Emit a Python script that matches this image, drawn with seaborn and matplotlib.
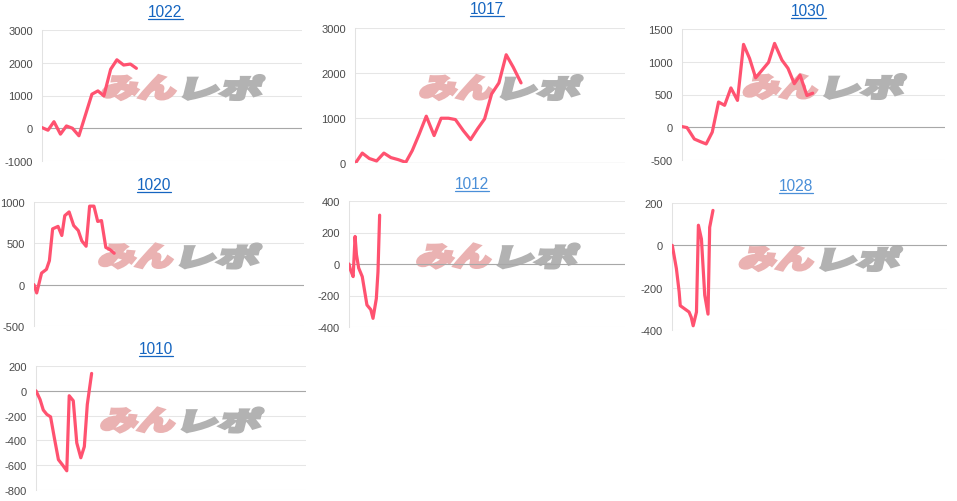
import numpy as np
import pandas as pd
import seaborn as sns
import matplotlib
matplotlib.use("Agg")
import matplotlib.pyplot as plt
from matplotlib.textpath import TextPath
from matplotlib.patches import PathPatch
from matplotlib.font_manager import FontProperties
from matplotlib.transforms import Affine2D
from matplotlib.lines import Line2D

# ---------------- data (x = position along the day, % of axis width) ----------------
names = ["1022", "1017", "1030", "1020", "1012", "1028", "1010"]

x_1022 = [0, 2.3, 4.6, 7.1, 9.4, 11.7, 14.2, 16.8, 19.2, 21.5, 23.8, 26.4, 28.8, 31.4, 34.0, 36.3]
y_1022 = [20, -60, 200, -180, 70, 0, -230, 430, 1040, 1140, 990, 1800, 2090, 1930, 1960, 1830]

x_1017 = [0.2, 2.7, 5.3, 8.0, 10.7, 13.3, 16.0, 18.8, 21.2, 23.8, 26.4, 29.3, 31.9, 34.6, 37.2,
          40.1, 42.8, 45.4, 48.0, 50.6, 53.3, 56.0, 58.6, 61.5]
y_1017 = [0, 220, 100, 45, 220, 120, 75, 15, 275, 645, 1040, 610, 995, 995, 965,
          720, 520, 760, 980, 1535, 1780, 2405, 2130, 1780]

x_1030 = [0, 1.9, 4.7, 7.0, 9.2, 11.5, 13.9, 16.2, 18.6, 21.1, 23.4, 25.7, 28.0, 30.4, 32.9,
          35.2, 38.0, 40.3, 42.7, 44.9, 47.5, 49.7]
y_1030 = [10, -5, -180, -220, -255, -75, 385, 335, 600, 410, 1265, 1050, 755, 870, 990,
          1280, 1025, 900, 665, 795, 485, 520]

x_1020 = [0, 1.0, 2.8, 4.6, 5.7, 6.9, 8.9, 10.3, 11.4, 13.0, 14.7, 16.4, 17.7, 19.3, 20.6,
          22.2, 23.6, 25.0, 26.6, 28.1, 29.7]
y_1020 = [0, -100, 140, 185, 290, 675, 705, 595, 835, 880, 715, 655, 530, 465, 950,
          950, 765, 775, 450, 425, 380]

x_1012 = [0, 0.5, 1.5, 2.2, 2.7, 3.5, 4.8, 6.5, 7.9, 8.7, 9.9, 10.5, 11.1]
y_1012 = [0, -35, -80, 175, 60, -25, -80, -260, -290, -345, -220, -50, 310]

x_1028 = [0.1, 1.6, 2.6, 3.0, 4.6, 6.2, 7.0, 7.7, 8.9, 9.6, 10.7, 11.9, 13.1, 13.7, 14.9]
y_1028 = [0, -110, -220, -285, -300, -315, -340, -380, -315, 95, 30, -235, -325, 85, 165]

x_1010 = [0, 1.5, 2.7, 4.0, 5.4, 6.8, 8.3, 9.9, 11.4, 12.3, 13.8, 15.1, 16.6, 17.9, 19.0, 20.6]
y_1010 = [0, -70, -155, -190, -210, -380, -555, -600, -645, -40, -80, -420, -540, -450, -110, 140]

ticks_1022 = [-1000, 0, 1000, 2000, 3000]
ticks_1017 = [0, 1000, 2000, 3000]
ticks_1030 = [-500, 0, 500, 1000, 1500]
ticks_1020 = [-500, 0, 500, 1000]
ticks_1012 = [-400, -200, 0, 200, 400]
ticks_1028 = [-400, -200, 0, 200]
ticks_1010 = [-800, -600, -400, -200, 0, 200]

series = {
    "1022": (x_1022, y_1022, ticks_1022),
    "1017": (x_1017, y_1017, ticks_1017),
    "1030": (x_1030, y_1030, ticks_1030),
    "1020": (x_1020, y_1020, ticks_1020),
    "1012": (x_1012, y_1012, ticks_1012),
    "1028": (x_1028, y_1028, ticks_1028),
    "1010": (x_1010, y_1010, ticks_1010),
}

# ---------------- layout (pixels) ----------------
W, H = 957, 502
# left, top, right, bottom of plot area ; title centre x, y ; underline y ; title colour
layout = {
    "1022": ((42, 31, 302, 162), (165.5, 12.5), 19.5, "#1565C0"),
    "1017": ((355, 29, 625, 164), (487, 10), 17.0, "#1565C0"),
    "1030": ((682, 30, 945, 161), (808.5, 11.5), 18.5, "#1565C0"),
    "1020": ((34, 203, 304, 327), (154, 186), 193.0, "#1565C0"),
    "1012": ((349, 202, 625, 328), (472, 184.5), 191.5, "#4A8FD8"),
    "1028": ((672, 204, 947, 331), (796, 186.5), 193.5, "#4A8FD8"),
    "1010": ((36, 367, 306, 491), (156, 349.5), 356.5, "#1565C0"),
}

sns.set_theme(style="white")
plt.rcParams["font.family"] = ["Liberation Sans", "DejaVu Sans"]
plt.rcParams["axes.unicode_minus"] = False

fig = plt.figure(figsize=(W / 100, H / 100), dpi=100)
fig.patch.set_facecolor("white")

LINE = "#FF5270"
GRID = "#E6E6E6"
fp_logo = FontProperties(family=["Noto Sans CJK JP"], weight="black")


def logo_patch(text, x_left, y_bot, w, h, color):
    p = TextPath((0, 0), text, size=1, prop=fp_logo)
    ext = p.get_extents()
    tr = (Affine2D().translate(-ext.x0, -ext.y0)
          .scale(w / ext.width, h / ext.height)
          .skew_deg(14, 0)
          .translate(x_left, y_bot))
    return PathPatch(p, transform=tr, facecolor=color, edgecolor=color,
                     linewidth=2.2, joinstyle="miter", zorder=1.5)


titles = []
for name in names:
    xs, ys, ticks = series[name]
    (l, t, r, b), (tx, ty), uy, tcol = layout[name]
    ax = fig.add_axes([l / W, 1 - b / H, (r - l) / W, (b - t) / H])
    ax.set_facecolor("none")
    df = pd.DataFrame({"x": xs, "y": ys})
    sns.lineplot(data=df, x="x", y="y", ax=ax, color=LINE, linewidth=2.3,
                 estimator=None, sort=False, zorder=3)
    ax.set_xlim(0, 100)
    ax.set_ylim(ticks[0], ticks[-1])
    ax.set_yticks(ticks)
    ax.set_yticklabels([str(v) for v in ticks])
    ax.set_xticks([])
    ax.set_xlabel("")
    ax.set_ylabel("")
    ax.grid(axis="y", color=GRID, linewidth=0.75, zorder=0)
    ax.set_axisbelow(True)
    ax.axhline(0, color="#A8A8A8", linewidth=0.8, zorder=2)
    for s in ["top", "right", "bottom"]:
        ax.spines[s].set_visible(False)
    ax.spines["left"].set_color("#E2E2E2")
    ax.spines["left"].set_linewidth(0.75)
    ax.tick_params(axis="y", length=0, pad=6.5, labelsize=8.0, labelcolor="#4A4A4A")
    for lab in ax.get_yticklabels():
        lab.set_clip_on(False)

    # watermark logo "みんレポ"
    cx = (l + r) / 2 + 8
    cy = H - ((t + b) / 2 - 8)
    ax.add_patch(logo_patch("みん", cx - 79, cy - 12, 72, 24, "#EAB2B2"))
    ax.add_patch(logo_patch("レポ", cx + 3, cy - 12, 76, 24, "#B2B2B2"))

    tt = fig.text(tx / W, 1 - ty / H, name, ha="center", va="center",
                  fontsize=11.2, color=tcol)
    titles.append((tt, uy, tcol))

fig.canvas.draw()
for tt, uy, tcol in titles:
    bb = tt.get_window_extent()
    fig.add_artist(Line2D([bb.x0 / W, bb.x1 / W], [1 - uy / H, 1 - uy / H],
                          transform=fig.transFigure, color=tcol, linewidth=0.9))

fig.savefig("out.png", dpi=100, facecolor="white")
